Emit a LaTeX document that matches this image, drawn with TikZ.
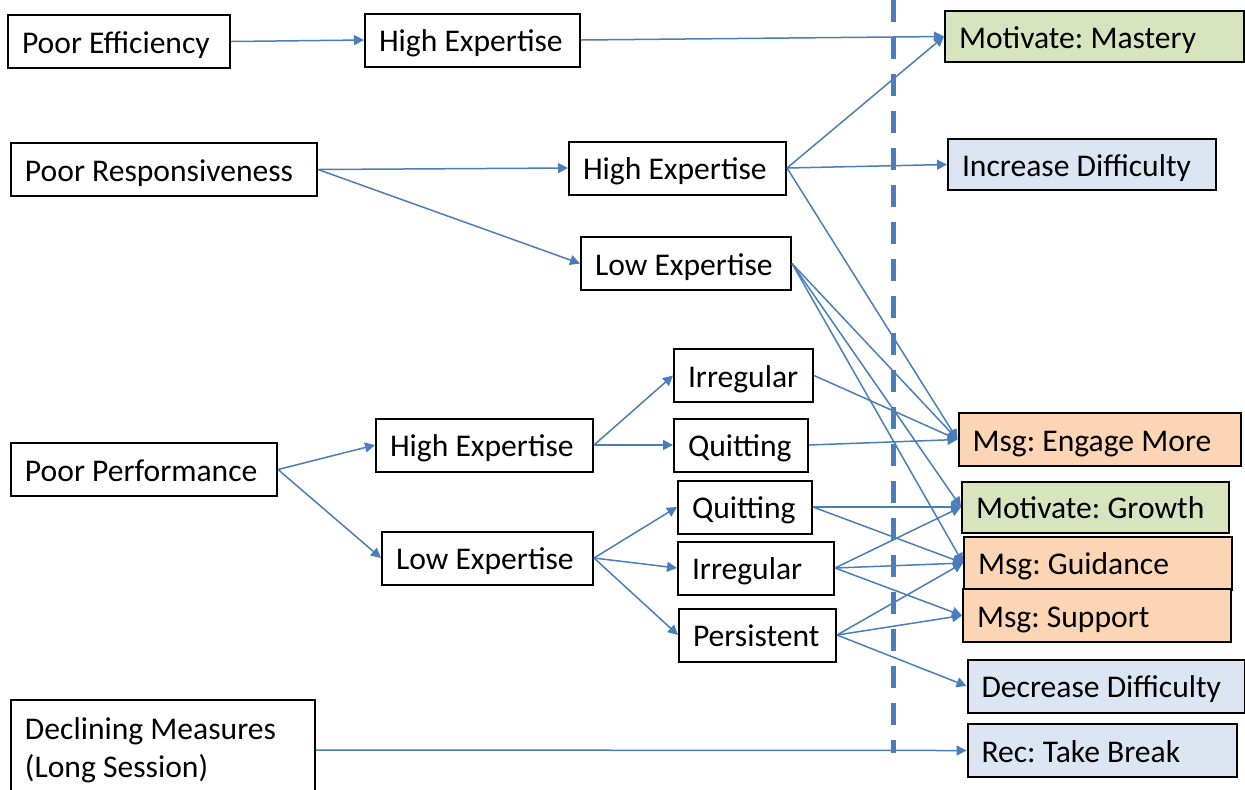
\documentclass[tikz,border=0pt]{standalone}
\usepackage{fontspec}
\setmainfont{Carlito}
\usetikzlibrary{arrows.meta}

\definecolor{linkblue}{RGB}{74,126,187}
\definecolor{fillgreen}{RGB}{215,228,189}
\definecolor{fillblue}{RGB}{220,230,242}
\definecolor{fillorange}{RGB}{252,213,181}

\tikzset{
  box/.style={draw,line width=1pt,inner xsep=7pt,inner ysep=0pt,minimum height=26.5pt,
    align=flush left,font=\fontsize{15.8}{19}\selectfont\frenchspacing,
    text height=15pt,text depth=3.5pt},
  arr/.style={draw=linkblue,line width=0.75pt,-{Triangle[length=5pt,width=5pt]}},
}

\begin{document}
\begin{tikzpicture}[x=0.5pt,y=-0.5pt]
%\draw[step=50,gray,very thin] (0,0) grid (1245,789); %background grid
\useasboundingbox (0,0) rectangle (1245,789);

% conditions
\node[box,text width=97pt] (eff) at (119,41.5) {Poor Efficiency};
\node[box,text width=139pt] (resp) at (164,169.5) {Poor Responsiveness};
\node[box,text width=119pt] (perf) at (144,469.5) {Poor Performance};
\node[box,text width=138pt,minimum height=50pt,text height=,text depth=] (decl) at (163,750) {Declining Measures\\(Long Session)};

% expertise
\node[box,text width=93.5pt] (he1) at (472.5,40) {High Expertise};
\node[box,text width=94.5pt] (he2) at (677.5,168) {High Expertise};
\node[box,text width=91pt] (le1) at (686,263.5) {Low Expertise};
\node[box,text width=94.5pt] (he3) at (484.5,445) {High Expertise};
\node[box,text width=91.5pt] (le2) at (487.5,558) {Low Expertise};

% behaviour
\node[box,text width=55.5pt] (irr1) at (743.5,375.5) {Irregular};
\node[box,text width=53pt] (qui1) at (741,445) {Quitting};
\node[box,text width=53pt] (qui2) at (745,507) {Quitting};
\node[box,text width=64pt] (irr2) at (756,568) {Irregular};
\node[box,text width=64.5pt] (pers) at (757.5,635) {Persistent};

% interventions
\node[box,fill=fillgreen,text width=135.5pt,minimum height=25.5pt] (mast) at (1094.5,36.5) {Motivate: Mastery};
\node[box,fill=fillblue,text width=120pt,minimum height=25.5pt] (incr) at (1082,164.5) {Increase Difficulty};
\node[box,fill=fillorange,text width=127pt] (eng) at (1099.5,439.5) {Msg: Engage More};
\node[box,fill=fillgreen,text width=119.5pt,minimum height=25.5pt] (grow) at (1095.5,507) {Motivate: Growth};
\node[box,fill=fillorange,text width=120pt] (guid) at (1098,563) {Msg: Guidance};
\node[box,fill=fillorange,text width=120pt] (supp) at (1097,615.5) {Msg: Support};
\node[box,fill=fillblue,text width=124.5pt] (decr) at (1106,686) {Decrease Difficulty};
\node[box,fill=fillblue,text width=120.5pt] (brk) at (1102,750.5) {Rec: Take Break};

\draw[arr] (eff.east) -- (he1.west);
\draw[arr] (he1.east) -- (mast.west);

\draw[arr] (resp.east) -- (he2.west);
\draw[arr] (resp.east) -- (le1.west);
\draw[arr] (he2.east) -- (mast.west);
\draw[arr] (he2.east) -- (incr.west);
\draw[arr] (he2.east) -- (eng.west);
\draw[arr] (le1.east) -- (eng.west);
\draw[arr] (le1.east) -- (grow.west);
\draw[arr] (le1.east) -- (guid.west);

\draw[arr] (perf.east) -- (he3.west);
\draw[arr] (perf.east) -- (le2.west);
\draw[arr] (he3.east) -- (irr1.west);
\draw[arr] (he3.east) -- (qui1.west);
\draw[arr] (le2.east) -- (qui2.west);
\draw[arr] (le2.east) -- (irr2.west);
\draw[arr] (le2.east) -- (pers.west);

\draw[arr] (irr1.east) -- (eng.west);
\draw[arr] (qui1.east) -- (eng.west);
\draw[arr] (qui2.east) -- (grow.west);
\draw[arr] (qui2.east) -- (guid.west);
\draw[arr] (irr2.east) -- (grow.west);
\draw[arr] (irr2.east) -- (guid.west);
\draw[arr] (irr2.east) -- (supp.west);
\draw[arr] (pers.east) -- (guid.west);
\draw[arr] (pers.east) -- (supp.west);
\draw[arr] (pers.east) -- (decr.west);

\draw[arr] (decl.east) -- (brk.west);

% separator
\draw[linkblue,line width=2.5pt,dash pattern=on 11pt off 7.5pt] (893,0) -- (893,753);
\end{tikzpicture}
\end{document}
